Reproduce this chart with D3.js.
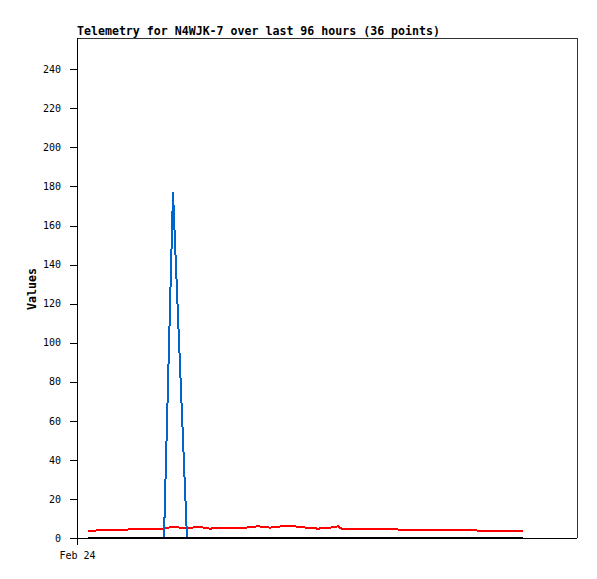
<!DOCTYPE html>
<html>
<head>
<meta charset="utf-8">
<script src="https://cdn.jsdelivr.net/npm/d3@7"></script>
<style>
  body { margin: 0; background: #fff; }
  svg { display: block; }
  .tick text { font-family: "DejaVu Sans Mono", monospace; font-size: 10px; fill: #000; }
</style>
</head>
<body>
<script>
'use strict';

// hours after Feb 24 00:00 for each of the 36 telemetry points
const hours = [2.11, 5.38, 8.64, 11.9, 14.4, 16.7, 18.43, 21.12, 23.23, 25.54,
  27.84, 30.14, 32.45, 34.75, 37.06, 39.36, 41.66, 43.97, 46.27, 48.58,
  50.11, 50.88, 53.38, 55.87, 58.18, 60.48, 62.59, 65.09, 67.78, 70.46,
  73.15, 75.46, 77.95, 80.45, 83.14, 85.63]

const redValues = [3.6, 4.1, 4.1, 4.8, 4.8, 4.8, 5.8, 4.8, 5.8, 4.8,
  5.3, 5.3, 5.3, 6.0, 5.3, 6.0, 6.0, 5.3, 4.8, 5.3,
  6.0, 4.6, 4.6, 4.6, 4.6, 4.6, 4.1, 4.1, 4.1, 4.1,
  4.1, 4.1, 3.6, 3.6, 3.6, 3.6]

const blueValues = [0, 0, 0, 0, 0, 0, 177, 0, 0, 0,
  0, 0, 0, 0, 0, 0, 0, 0, 0, 0,
  0, 0, 0, 0, 0, 0, 0, 0, 0, 0,
  0, 0, 0, 0, 0, 0]

const blackValues = hours.map(() => 0)

const yTicks = [0, 20, 40, 60, 80, 100, 120, 140, 160, 180, 200, 220, 240]
const xTickLabels = ["Feb 24"]

const start = new Date(2024, 1, 24, 0, 0)
const spanHours = 96

const m = { left: 77, top: 38, right: 577, bottom: 538 }

const svg = d3.select('body')
  .append('svg')
  .attr('width', 597)
  .attr('height', 579)

const toDate = (h) => new Date(start.getTime() + h * 3600 * 1000)

const xScale = d3.scaleTime()
  .domain([start, toDate(spanHours)])
  .range([m.left, m.right])

const yScale = d3.scaleLinear()
  .domain([0, 256])
  .range([m.bottom, m.top])

// frame (top and right)
svg.append('path')
  .attr('d', `M${m.left},${m.top + 0.5}H${m.right + 0.5}V${m.bottom}`)
  .attr('fill', 'none')
  .attr('stroke', '#333')
  .attr('stroke-width', 1)
  .attr('shape-rendering', 'crispEdges')

// axes
const yAxis = d3.axisLeft(yScale)
  .tickValues(yTicks)
  .tickSize(7)
  .tickPadding(9)
  .tickFormat(d3.format('d'))
svg.append('g')
  .attr('transform', `translate(${m.left},0)`)
  .call(yAxis)
  .call(g => g.select('.domain').attr('d', `M0,${m.top}V${m.bottom}`))

const xAxis = d3.axisBottom(xScale)
  .tickValues([start])
  .tickSize(7)
  .tickPadding(7)
  .tickFormat((d, i) => xTickLabels[i])
svg.append('g')
  .attr('transform', `translate(0,${m.bottom})`)
  .call(xAxis)
  .call(g => g.select('.domain').attr('d', `M${m.left},0H${m.right}`))

svg.selectAll('.domain, .tick line')
  .attr('stroke', '#000')
  .attr('shape-rendering', 'crispEdges')

// series lines
const series = [
  { values: redValues, color: '#ff0000' },
  { values: blueValues, color: '#0066cc' },
  { values: blackValues, color: '#000000' }
]

const line = d3.line()
  .x((d, i) => xScale(toDate(hours[i])))
  .y(d => yScale(d))

series.forEach(s => {
  svg.append('path')
    .datum(s.values)
    .attr('d', line)
    .attr('fill', 'none')
    .attr('stroke', s.color)
    .attr('stroke-width', 2)
    .attr('shape-rendering', 'crispEdges')
})

// title and y label
svg.append('text')
  .attr('x', m.left)
  .attr('y', 35)
  .style('font-family', '"DejaVu Sans Mono", monospace')
  .style('font-weight', 'bold')
  .style('font-size', '11.6px')
  .text('Telemetry for N4WJK-7 over last 96 hours (36 points)')

svg.append('text')
  .attr('transform', 'translate(36, 289)rotate(-90)')
  .attr('text-anchor', 'middle')
  .style('font-family', '"DejaVu Sans Mono", monospace')
  .style('font-weight', 'bold')
  .style('font-size', '11.6px')
  .text('Values')
</script>
</body>
</html>
